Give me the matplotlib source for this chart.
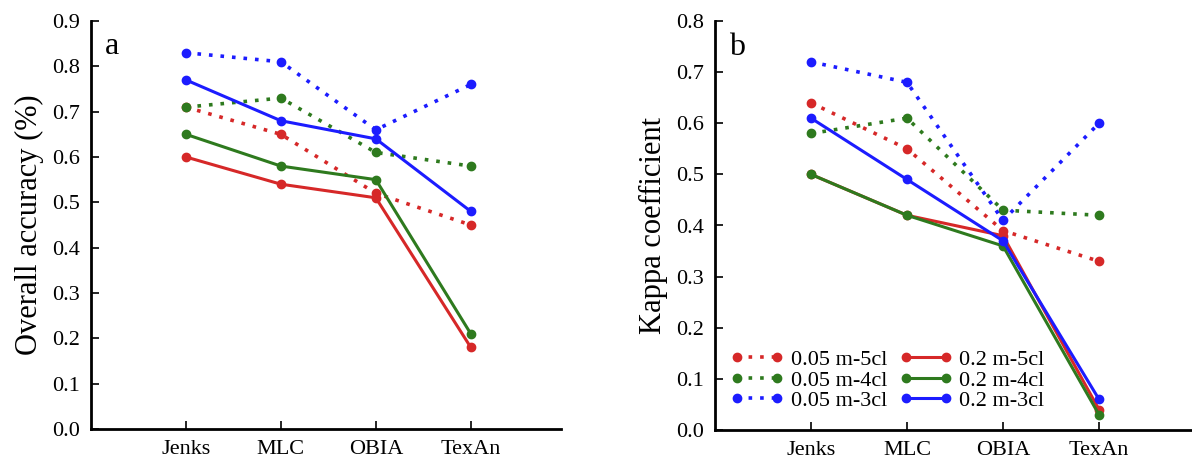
import matplotlib.pyplot as plt

plt.rcParams["font.family"] = ["Liberation Serif", "DejaVu Serif"]

methods = ["Jenks", "MLC", "OBIA", "TexAn"]
series_names = ["0.05 m-5cl", "0.05 m-4cl", "0.05 m-3cl", "0.2 m-5cl", "0.2 m-4cl", "0.2 m-3cl"]

# overall accuracy (panel a)
oa_005_5cl = [0.71, 0.65, 0.52, 0.45]
oa_005_4cl = [0.71, 0.73, 0.61, 0.58]
oa_005_3cl = [0.83, 0.81, 0.66, 0.76]
oa_02_5cl = [0.60, 0.54, 0.51, 0.18]
oa_02_4cl = [0.65, 0.58, 0.55, 0.21]
oa_02_3cl = [0.77, 0.68, 0.64, 0.48]

# kappa coefficient (panel b)
kappa_005_5cl = [0.64, 0.55, 0.39, 0.33]
kappa_005_4cl = [0.58, 0.61, 0.43, 0.42]
kappa_005_3cl = [0.72, 0.68, 0.41, 0.60]
kappa_02_5cl = [0.50, 0.42, 0.38, 0.04]
kappa_02_4cl = [0.50, 0.42, 0.36, 0.03]
kappa_02_3cl = [0.61, 0.49, 0.37, 0.06]

RED = "#d62828"
GREEN = "#2e7a1e"
BLUE = "#1c1cff"
colors = [RED, GREEN, BLUE, RED, GREEN, BLUE]
dotted = (0, (1, 2.2))


def draw_panel(ax, series, ylabel, ymax, letter):
    xs = range(1, len(methods) + 1)
    for i, ys in enumerate(series):
        if i < 3:
            ax.plot(xs, ys, color=colors[i], linestyle=dotted, linewidth=2.6,
                    marker="o", markersize=6, label=series_names[i])
        else:
            ax.plot(xs, ys, color=colors[i], linestyle="-", linewidth=2.2,
                    marker="o", markersize=6, label=series_names[i])
    ax.set_xlim(0, 4.95)
    ax.set_ylim(0, ymax)
    ax.set_xticks(list(xs))
    ax.set_xticklabels(methods)
    ax.set_yticks([round(v * 0.1, 1) for v in range(int(round(ymax * 10)) + 1)])
    ax.yaxis.set_major_formatter(plt.FormatStrFormatter("%.1f"))
    ax.spines["top"].set_visible(False)
    ax.spines["right"].set_visible(False)
    ax.spines["left"].set_linewidth(2)
    ax.spines["bottom"].set_linewidth(2)
    ax.tick_params(direction="in", length=6, width=1.2, labelsize=16, pad=8)
    ax.set_ylabel(ylabel, fontsize=22, labelpad=6)
    ax.text(0.03, 0.918, letter, transform=ax.transAxes, fontsize=23)


fig = plt.figure(figsize=(11.92, 4.61), dpi=100)
ax_a = fig.add_axes([91 / 1192, 32 / 461, 470 / 1192, 408 / 461])
ax_b = fig.add_axes([715 / 1192, 31 / 461, 480 / 1192, 409 / 461])

draw_panel(ax_a, [oa_005_5cl, oa_005_4cl, oa_005_3cl, oa_02_5cl, oa_02_4cl, oa_02_3cl],
           "Overall accuracy (%)", 0.9, "a")
draw_panel(ax_b, [kappa_005_5cl, kappa_005_4cl, kappa_005_3cl, kappa_02_5cl, kappa_02_4cl, kappa_02_3cl],
           "Kappa coefficient", 0.8, "b")
ax_b.set_xlim(0, 5.0)

ax_b.legend(loc="lower left", bbox_to_anchor=(0.0, 0.008), ncol=2, frameon=False,
            fontsize=16, numpoints=2, handlelength=2.4, handletextpad=0.3,
            columnspacing=0.55, labelspacing=0.0, borderaxespad=0.3)

fig.savefig("out.png", dpi=100)
